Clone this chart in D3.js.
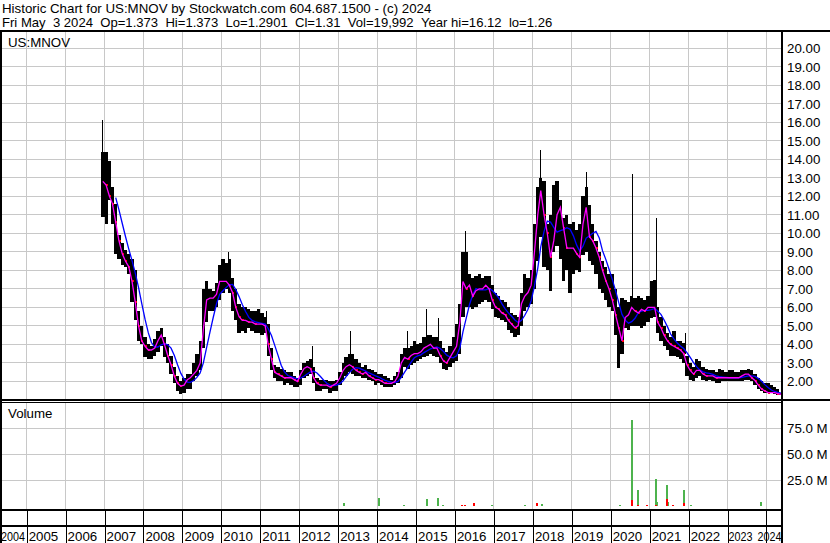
<!DOCTYPE html>
<html><head><meta charset="utf-8">
<script src="https://cdn.jsdelivr.net/npm/d3@7"></script>
<style>body{margin:0;background:#fff}svg{display:block;font-family:"Liberation Sans",Arial,sans-serif}</style>
</head><body><svg id="c" width="830" height="543"></svg>
<script>
// ---------- DATA (monthly bars from Dec 2006 to May 2024) ----------
const firstMonth = [2006, 11]; // Dec 2006 (0-based month)
const high = [14.4,
 14.4,13.9,12.5,11.6,9.9,9.5,9.1,8.9,8.6,8.0,5.8,5.0,
 4.4,4.0,3.9,4.3,4.7,4.9,4.4,4.0,3.4,2.8,2.3,2.0,
 2.2,2.4,2.4,3.0,3.5,4.2,7.0,7.4,7.0,6.9,7.3,8.3,
 8.6,8.4,8.6,7.6,7.0,6.2,6.0,6.0,5.9,5.8,5.8,5.9,
 5.7,5.5,5.1,3.8,2.9,2.8,2.7,2.6,2.5,2.5,2.3,2.2,
 2.6,3.0,3.1,3.2,2.8,2.2,2.1,2.1,2.1,2.0,2.0,2.1,
 2.5,3.0,3.3,3.5,3.5,3.2,3.0,2.8,2.9,2.7,2.6,2.5,
 2.4,2.4,2.3,2.2,2.1,2.3,2.5,3.5,3.8,3.8,3.9,4.2,
 4.0,4.1,4.4,4.5,4.5,4.4,4.4,4.2,3.8,3.6,3.9,4.4,
 5.1,6.2,9.0,9.0,7.8,7.6,7.7,7.8,7.6,7.7,7.7,7.2,
 6.8,6.6,6.4,6.3,6.0,5.7,5.6,5.5,6.8,7.8,7.6,8.0,
 10.5,12.5,13.0,12.8,10.5,11.0,12.6,12.8,11.8,10.8,11.0,10.5,
 10.6,10.2,10.5,12.0,12.5,11.5,10.5,9.6,9.0,8.5,8.2,7.8,
 7.8,7.0,6.0,6.5,6.4,6.3,6.6,6.5,6.6,6.5,6.4,6.6,
 7.4,7.5,6.0,5.5,5.0,4.6,4.4,4.7,4.2,4.2,4.1,3.4,
 3.0,2.8,3.2,3.1,2.8,2.7,2.6,2.6,2.5,2.7,2.6,2.5,
 2.6,2.6,2.5,2.5,2.6,2.6,2.7,2.6,2.4,2.2,2.0,1.9,
 1.9,1.8,1.7,1.6,1.37];
const low = [10.9,
 10.5,11.8,10.5,8.9,8.6,8.3,8.2,7.8,6.3,5.3,4.2,4.0,
 3.3,3.2,3.2,3.4,3.6,3.9,3.3,3.0,2.4,1.9,1.5,1.35,
 1.4,1.6,1.6,2.0,2.3,2.6,3.8,5.2,5.8,5.8,6.0,6.4,
 6.8,7.0,6.8,5.8,5.3,4.6,4.7,4.6,4.9,4.7,4.6,4.6,
 4.5,4.6,3.4,2.6,2.2,2.0,2.0,1.8,1.9,1.8,1.7,1.7,
 1.8,2.2,2.3,2.4,1.9,1.5,1.5,1.6,1.6,1.4,1.5,1.5,
 1.8,2.1,2.3,2.5,2.4,2.3,2.3,2.2,2.2,2.1,2.0,1.8,
 1.9,1.8,1.7,1.7,1.7,1.8,1.9,2.2,2.8,2.7,2.9,3.0,
 3.1,3.2,3.3,3.4,3.5,3.4,3.3,3.0,2.7,2.6,2.8,3.0,
 3.1,3.5,5.5,6.0,6.0,5.9,6.0,6.2,6.3,6.4,6.3,5.9,
 5.5,5.4,5.3,5.2,4.8,4.6,4.4,4.5,5.0,5.8,6.0,6.2,
 7.0,8.5,9.8,8.2,8.0,6.9,9.0,9.3,8.6,7.4,8.0,6.8,
 7.8,8.0,7.9,8.8,9.0,8.5,8.3,7.8,7.0,6.8,6.4,6.0,
 5.8,4.5,2.75,3.5,4.9,4.8,5.0,5.0,5.0,4.9,5.0,5.2,
 5.4,5.5,4.6,4.2,3.9,3.7,3.4,3.4,3.3,3.2,3.0,2.3,
 2.1,2.0,2.2,2.3,2.1,2.0,2.1,2.0,1.9,1.9,2.0,2.0,
 2.0,2.0,2.0,2.0,2.0,2.1,2.1,2.0,1.8,1.6,1.5,1.4,
 1.4,1.4,1.3,1.26,1.29];
const close = [12.8,
 12.6,12.0,11.6,10.6,9.6,8.9,8.5,8.2,7.4,6.3,5.0,4.2,
 3.9,3.7,3.7,3.8,4.2,4.5,4.0,3.4,2.9,2.3,1.9,1.75,
 1.8,2.1,2.2,2.4,2.6,3.0,4.8,6.4,6.5,6.5,6.7,7.4,
 7.4,7.4,7.2,6.8,6.0,5.5,5.3,5.3,5.2,5.2,5.1,5.1,
 5.1,5.0,4.0,3.2,2.5,2.4,2.3,2.2,2.2,2.2,2.1,2.0,
 2.4,2.7,2.8,2.7,2.2,1.9,1.8,1.8,1.8,1.7,1.8,1.9,
 2.2,2.6,2.8,2.9,2.8,2.6,2.5,2.4,2.5,2.3,2.2,2.1,
 2.1,2.0,1.9,1.9,1.9,2.0,2.3,3.0,3.3,3.2,3.4,3.5,
 3.5,3.6,3.8,3.9,4.0,3.8,3.8,3.4,3.1,3.0,3.3,3.6,
 3.9,5.2,7.4,7.0,7.2,6.6,6.9,7.0,7.0,7.2,7.0,6.4,
 6.0,5.9,5.7,5.6,5.3,5.1,4.9,5.0,6.2,6.6,6.8,7.2,
 9.0,11.0,12.3,11.0,10.0,8.7,9.6,11.0,11.4,10.3,9.2,9.2,
 9.2,8.9,8.7,10.5,11.4,9.8,9.6,9.2,8.7,8.0,7.45,7.0,
 6.4,5.6,4.9,4.2,5.45,5.6,6.0,5.8,5.7,5.9,5.8,6.0,
 6.0,6.0,5.2,4.9,4.5,4.2,4.0,3.9,3.8,3.7,3.5,2.9,
 2.6,2.4,2.6,2.6,2.4,2.3,2.3,2.3,2.2,2.2,2.2,2.2,
 2.2,2.2,2.2,2.2,2.3,2.4,2.4,2.2,2.05,1.8,1.6,1.5,
 1.4,1.4,1.4,1.35,1.31];
// single-day intraday spikes
const spikeDates = ["2006-12-13","2010-03-04","2011-02-23","2012-05-01","2013-04-20","2014-10-08","2015-04-05","2015-07-27","2016-04-04","2018-03-10","2019-05-15","2020-07-22","2021-03-01","2021-11-28"];
const spikeHighs = [16.1,9.0,5.8,3.9,4.7,4.75,5.9,5.4,10.1,14.5,13.3,13.2,10.8,4.6];
// daily volume (millions)
const volDates = ["2011-03-17","2012-05-28","2013-02-24","2014-01-14","2014-09-10","2015-04-13","2015-07-23","2015-09-10","2016-03-07","2016-04-04","2016-06-25","2016-12-14","2017-10-20","2018-02-10","2018-03-29","2020-03-27","2020-07-15","2020-09-11","2020-12-05","2021-03-01","2021-03-10","2021-06-12","2021-06-19","2021-08-05","2021-11-16","2022-01-21","2023-11-15"];
const volGreen = [0,0,3,7.6,1.5,6.6,7.6,1,0,0,0,1,1,0,2,1,83,15.2,0,26.4,4.6,20.7,4.6,0,15.9,1.5,3.7];
const volRed   = [0.6,0.6,0,0,0,0,0,0,0.8,0.8,3,0,0,3,0,0,6,1,1,1,0,7,0,1,3,0,0];
const priceTicks = [2,3,4,5,6,7,8,9,10,11,12,13,14,15,16,17,18,19,20];
const volTicks = [25,50,75];
const years = d3.range(2004, 2025);
const title1 = "Historic Chart for US:MNOV by Stockwatch.com 604.687.1500 - (c) 2024";
const title2 = "Fri May  3 2024  Op=1.373  Hi=1.373  Lo=1.2901  Cl=1.31  Vol=19,992  Year hi=16.12  lo=1.26";

// ---------- SCALES ----------
const svg = d3.select("#c");
const PL = 2, PR = 781;
const x = d3.scaleTime().domain([new Date(2005,0,1), new Date(2020,0,1)]).range([26.7, 610.7]);
const yP = d3.scaleLinear().domain([1,20]).range([400,48]);
const yV = d3.scaleLinear().domain([0,100]).range([506.3,402.3]);
const parse = d3.timeParse("%Y-%m-%d");
const months = high.map((_,i)=>new Date(firstMonth[0], firstMonth[1]+i, 1));
const mEnd = i => new Date(firstMonth[0], firstMonth[1]+i+1, 1);
const mMid = i => new Date(firstMonth[0], firstMonth[1]+i, 16);
const idx = d3.range(high.length);

svg.append("rect").attr("width",830).attr("height",543).attr("fill","#fff");
const defs = svg.append("defs");
defs.append("clipPath").attr("id","cp").append("rect").attr("x",PL).attr("y",31).attr("width",PR-PL).attr("height",368);
defs.append("clipPath").attr("id","cv").append("rect").attr("x",PL).attr("y",403).attr("width",PR-PL).attr("height",106);

const grid = "#c8c8c8";
const yearTicks = years.slice(1).map(y=>new Date(y,0,1));
const g1 = svg.append("g").attr("shape-rendering","crispEdges");
g1.selectAll(".hp").data(priceTicks).join("line").attr("x1",PL).attr("x2",PR).attr("y1",d=>yP(d)).attr("y2",d=>yP(d)).attr("stroke",grid);
g1.selectAll(".vp").data(yearTicks).join("line").attr("x1",d=>x(d)).attr("x2",d=>x(d)).attr("y1",31).attr("y2",399).attr("stroke",grid);
g1.selectAll(".hv").data(volTicks).join("line").attr("x1",PL).attr("x2",PR).attr("y1",d=>yV(d)).attr("y2",d=>yV(d)).attr("stroke",grid);
g1.selectAll(".vv").data(yearTicks).join("line").attr("x1",d=>x(d)).attr("x2",d=>x(d)).attr("y1",403).attr("y2",509).attr("stroke",grid);

// price bars
const gp = svg.append("g").attr("clip-path","url(#cp)");
gp.append("g").attr("shape-rendering","crispEdges").selectAll("rect").data(idx).join("rect")
  .attr("x",i=>x(months[i])).attr("width",i=>x(mEnd(i))-x(months[i]))
  .attr("y",i=>yP(high[i])).attr("height",i=>yP(low[i])-yP(high[i])).attr("fill","#000");
// spikes
const monthIndex = d => (d.getFullYear()-firstMonth[0])*12 + d.getMonth() - firstMonth[1];
gp.append("g").attr("shape-rendering","crispEdges").selectAll("line").data(d3.range(spikeDates.length)).join("line")
  .attr("x1",i=>Math.round(x(parse(spikeDates[i])))+0.5).attr("x2",i=>Math.round(x(parse(spikeDates[i])))+0.5)
  .attr("y1",i=>yP(spikeHighs[i])).attr("y2",i=>yP(close[monthIndex(parse(spikeDates[i]))]))
  .attr("stroke","#000").attr("stroke-width",1);
// red close marks on down months
const downIdx = idx.filter(i=>i>0 && close[i]<close[i-1]);
gp.append("g").attr("shape-rendering","crispEdges").selectAll("rect").data(downIdx).join("rect")
  .attr("x",i=>x(mEnd(i))-2).attr("y",i=>yP(close[i])-1).attr("width",2).attr("height",2).attr("fill","#ff0000");
// moving averages
const ma20 = idx.map(i=>({t:mMid(i), v:close[i]}));
const ma100 = idx.filter(i=>i>=4).map(i=>({t:mMid(i), v:d3.mean(close.slice(i-4,i+1))}));
const line = d3.line().x(d=>x(d.t)).y(d=>yP(d.v));
gp.append("path").attr("d",line(ma100)).attr("fill","none").attr("stroke","#0000ff").attr("stroke-width",1.3);
gp.append("path").attr("d",line(ma20)).attr("fill","none").attr("stroke","#ff00ff").attr("stroke-width",1.3);

// volume bars
const vIdx = d3.range(volDates.length);
const gv = svg.append("g").attr("clip-path","url(#cv)").attr("shape-rendering","crispEdges");
gv.selectAll(".g").data(vIdx.filter(i=>volGreen[i]>0)).join("rect")
  .attr("x",i=>Math.round(x(parse(volDates[i])))-1).attr("width",2)
  .attr("y",i=>yV(volGreen[i])).attr("height",i=>yV(0)-yV(volGreen[i])).attr("fill","#4db34d");
gv.selectAll(".r").data(vIdx.filter(i=>volRed[i]>0)).join("rect")
  .attr("x",i=>Math.round(x(parse(volDates[i])))-1).attr("width",2)
  .attr("y",i=>yV(volRed[i])).attr("height",i=>yV(0)-yV(volRed[i])).attr("fill","#ff0000");

// frame lines
const fr = svg.append("g").attr("shape-rendering","crispEdges").attr("stroke","#000");
fr.append("line").attr("x1",0).attr("x2",830).attr("y1",30.5).attr("y2",30.5).attr("stroke-width",2);
fr.append("line").attr("x1",0).attr("x2",830).attr("y1",400).attr("y2",400).attr("stroke-width",2);
fr.append("line").attr("x1",0).attr("x2",PR).attr("y1",402.5).attr("y2",402.5).attr("stroke-width",1);
fr.append("line").attr("x1",0).attr("x2",PR).attr("y1",510).attr("y2",510).attr("stroke-width",2);
fr.append("line").attr("x1",0).attr("x2",PR).attr("y1",526).attr("y2",526).attr("stroke-width",2);
fr.append("line").attr("x1",1).attr("x2",1).attr("y1",30).attr("y2",543).attr("stroke-width",2);
fr.append("line").attr("x1",782).attr("x2",782).attr("y1",30).attr("y2",543).attr("stroke-width",2);
fr.selectAll(".xt").data(yearTicks).join("line").attr("x1",d=>Math.round(x(d))+0.5).attr("x2",d=>Math.round(x(d))+0.5)
  .attr("y1",510).attr("y2",543).attr("stroke-width",1);

// texts
const nb = s => s.replace(/ /g,"\u00a0");
const txt = svg.append("g").attr("fill","#000").style("font-size","13.3px");
txt.append("text").attr("x",2).attr("y",13).text(nb(title1));
txt.append("text").attr("x",2).attr("y",26.5).style("font-size","13.1px").text(nb(title2));
txt.append("text").attr("x",8).attr("y",47).text("US:MNOV");
txt.append("text").attr("x",8).attr("y",417.5).text("Volume");
txt.selectAll(".pl").data(priceTicks).join("text").attr("x",787).attr("y",d=>yP(d)+5).text(d=>d3.format(".2f")(d));
txt.selectAll(".vl").data(volTicks).join("text").attr("x",787).attr("y",d=>yV(d)+5).text(d=>d3.format(".1f")(d)+"\u00a0M");
// year labels: first and last squeezed to fit the axis ends
const last = years[years.length-1], first = years[0];
const yl = txt.append("g").selectAll("text").data(years).join("text")
  .attr("x",d=> d===first ? 1 : d===last ? 757.5 : d===last-1 ? x(new Date(d,0,1))+1 : x(new Date(d,0,1))+2)
  .attr("y",540.5).text(d=>d);
yl.filter(d=>d===first||d===last||d===last-1).attr("textLength",24).attr("lengthAdjust","spacingAndGlyphs");
</script></body></html>
